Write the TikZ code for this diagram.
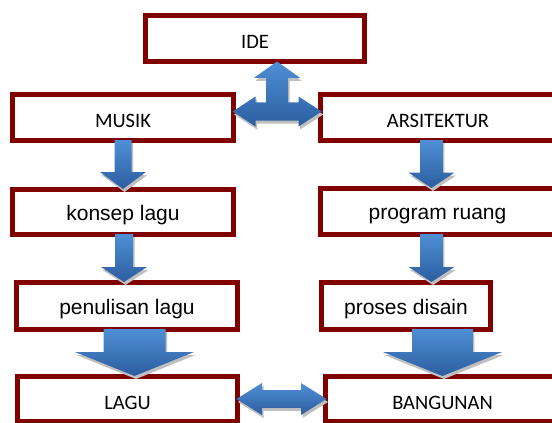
\documentclass[tikz,border=0pt]{standalone}
\usepackage{fontspec}
\setmainfont{Carlito}
\newfontfamily\arialf{Liberation Sans}
\usetikzlibrary{calc,shadows}
\definecolor{boxred}{RGB}{128,0,0}
\definecolor{arrtop}{RGB}{79,143,213}
\definecolor{arrbot}{RGB}{44,94,160}
\tikzset{
  box/.style={draw=boxred, line width=5pt, fill=white, inner sep=0pt, rectangle},
  capbox/.style={box, font=\fontsize{20.5}{24}\selectfont, text height=20pt, text depth=0pt},
  lowbox/.style={box, font=\arialf\fontsize{21}{25}\selectfont, text height=16pt, text depth=0pt},
  blockarrow/.style={top color=arrtop, bottom color=arrbot, draw=none,
    drop shadow={shadow xshift=1.5pt, shadow yshift=-3pt, fill=black!25, opacity=1}},
}
% vertical block arrow from node #1 to node #2, x offset #3 from #2 centre,
% half shaft #4, half head #5, head length #6
\newcommand\vblock[6]{%
  \path[blockarrow] let \p1=(#1.south), \p2=(#2.north), \p3=($(#2.north)+(#3,0)$) in
    (\x3-#4pt,\y1+3pt) -- (\x3+#4pt,\y1+3pt) -- (\x3+#4pt,\y2-2pt+#6pt) --
    (\x3+#5pt,\y2-2pt+#6pt) -- (\x3,\y2-2pt) -- (\x3-#5pt,\y2-2pt+#6pt) --
    (\x3-#4pt,\y2-2pt+#6pt) -- cycle;}
\begin{document}
\begin{tikzpicture}[x=1pt,y=-1pt]
\useasboundingbox (0,0) rectangle (552,423);
\clip (0,0) rectangle (552,423);
\fill[white] (0,0) rectangle (552,423);

\node[capbox, minimum width=219pt, minimum height=46pt] (ide) at (255,38.5) {IDE};
\node[capbox, minimum width=221pt, minimum height=46pt] (musik) at (123,117.5) {MUSIK};
\node[lowbox, minimum width=221pt, minimum height=45pt] (konsep) at (123,212) {konsep lagu};
\node[lowbox, minimum width=221pt, minimum height=47pt] (penulisan) at (127,306) {penulisan lagu};
\node[capbox, minimum width=220pt, minimum height=45pt] (lagu) at (127.5,399) {LAGU};
\node[capbox, minimum width=235pt, minimum height=46pt] (arsit) at (438,117.5) {ARSITEKTUR};
\node[lowbox, minimum width=234pt, minimum height=46pt] (program) at (437.5,211.5) {program ruang};
\node[lowbox, minimum width=169pt, minimum height=47pt] (proses) at (406,306) {proses disain};
\node[capbox, minimum width=234pt, minimum height=45pt] (bangunan) at (442.5,399) {BANGUNAN};

\vblock{musik}{konsep}{0}{8.5}{23}{17}
\vblock{konsep}{penulisan}{-3}{9}{23}{15}
\vblock{arsit}{program}{-6}{11.3}{22.8}{15.3}
\vblock{program}{proses}{25.5}{11.3}{22.8}{15}
\vblock{penulisan}{lagu}{7}{31}{59.5}{24}
\vblock{proses}{bangunan}{0}{30.3}{59.7}{24}

% four-way arrow between IDE, MUSIK and ARSITEKTUR
\coordinate (c4) at ($(musik.east)!0.5!(arsit.west)+(0,-6)$);
\path[blockarrow, shift={(c4)}]
  (0,-50) -- (23,-33.7) -- (11,-33.7) -- (11,-9.2) -- (21.5,-9.2) -- (21.5,-15) --
  (44.7,0) -- (21.5,15) -- (21.5,9.2) -- (-21.5,9.2) -- (-21.5,15) -- (-44.3,0) --
  (-21.5,-15) -- (-21.5,-9.2) -- (-11,-9.2) -- (-11,-33.7) -- (-23,-33.7) -- cycle;

% double arrow between LAGU and BANGUNAN
\coordinate (c2) at ($(lagu.east)!0.5!(bangunan.west)$);
\path[blockarrow, shift={(c2)}]
  (-45,0) -- (-19.5,-16) -- (-19.5,-8.8) -- (19.5,-8.8) -- (19.5,-16) -- (45,0) --
  (19.5,16) -- (19.5,8.8) -- (-19.5,8.8) -- (-19.5,16) -- cycle;
\end{tikzpicture}
\end{document}
